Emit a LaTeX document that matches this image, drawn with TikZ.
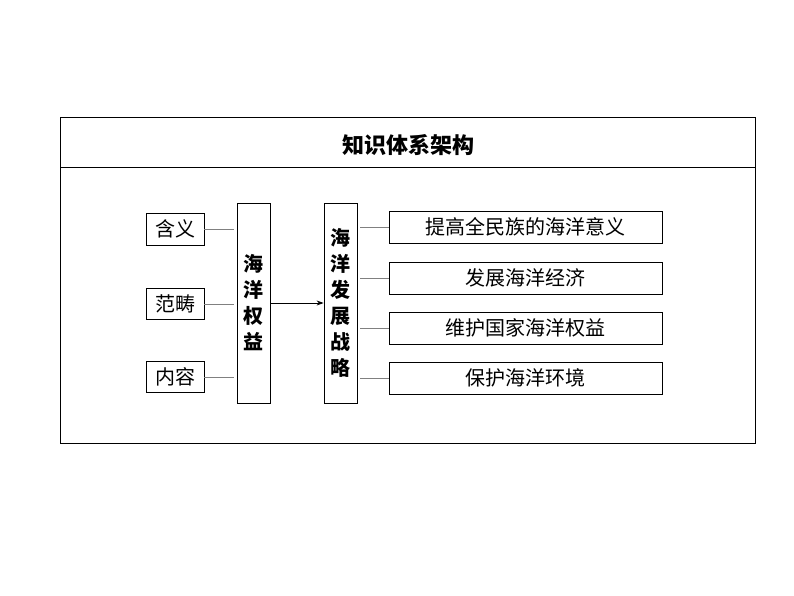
\documentclass[tikz,border=0pt]{standalone}
\usepackage{fontspec}
\usetikzlibrary{arrows.meta}
\newfontfamily\cjk{Noto Sans CJK SC}
\begin{document}
\begin{tikzpicture}[x=1pt,y=-1pt,
  bx/.style={draw,line width=0.8pt,inner sep=0pt,font=\cjk\fontsize{20}{22}\selectfont},
  vb/.style={draw,line width=0.8pt,inner sep=0pt,minimum width=33pt,minimum height=200pt,align=center,font=\cjk\bfseries\fontsize{20}{26}\selectfont},
  ln/.style={draw=gray,line width=0.6pt}]
\useasboundingbox (0,0) rectangle (794,596);
\draw[line width=1pt] (60,118) rectangle (755,443);
\draw[line width=1pt] (60,168) -- (755,168);
\node (t) at (408,145) {\cjk\bfseries\fontsize{22}{24}\selectfont 知识体系架构};
\node[bx,minimum width=58pt,minimum height=32pt] (a1) at (175,229) {含义};
\node[bx,minimum width=58pt,minimum height=31pt] (a2) at (175,304) {范畴};
\node[bx,minimum width=58pt,minimum height=31pt] (a3) at (175,377) {内容};
\node[vb] (m) at (253.5,303) {海\\洋\\权\\益};
\node[vb] (s) at (340.5,303) {海\\洋\\发\\展\\战\\略};
\foreach \n/\y in {a1/229,a2/304,a3/377} \draw[ln] (\n.east) -- (234,\y);
\draw[-{Stealth[length=7pt,width=5pt]},line width=0.8pt] (m.east) -- (s.west);
\node[bx,minimum width=273pt,minimum height=32pt] (b1) at (525.5,227) {提高全民族的海洋意义};
\node[bx,minimum width=273pt,minimum height=32pt] (b2) at (525.5,278) {发展海洋经济};
\node[bx,minimum width=273pt,minimum height=32pt] (b3) at (525.5,328) {维护国家海洋权益};
\node[bx,minimum width=273pt,minimum height=32pt] (b4) at (525.5,378) {保护海洋环境};
\foreach \n/\y in {b1/227,b2/278,b3/328,b4/378} \draw[ln] (360,\y) -- (\n.west);
\end{tikzpicture}
\end{document}
